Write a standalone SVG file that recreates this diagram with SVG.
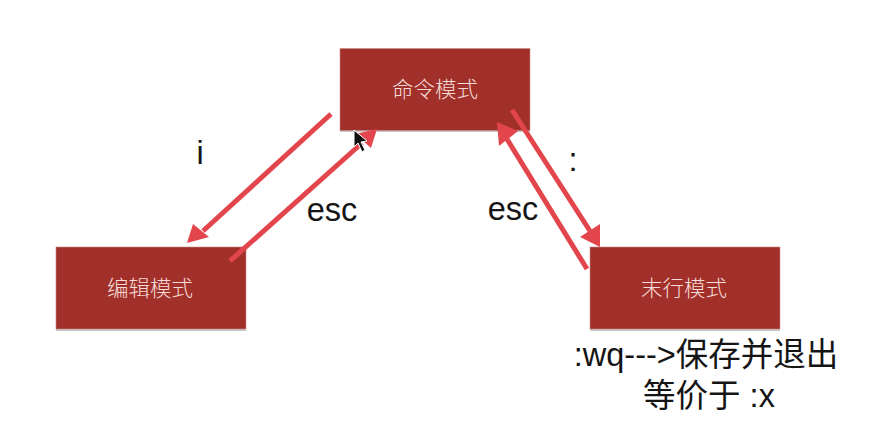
<svg xmlns="http://www.w3.org/2000/svg" width="869" height="446" viewBox="0 0 869 446">
<style>
.box{fill:#a2302a;stroke:#c98a85;stroke-width:.6}
.shadow{fill:#9a9a9a;opacity:.55}
.nl{font-family:"Noto Sans CJK SC","Liberation Sans",sans-serif;font-size:21.500px;fill:#f5dcd8;text-anchor:middle;font-weight:300}
.tl{font-family:"Liberation Sans","Noto Sans CJK SC",sans-serif;font-size:32.500px;fill:#151515;text-anchor:middle}
.c{fill:none;stroke:#e2464c;stroke-width:5}
.h{fill:#e2464c}
</style>
<rect width="869" height="446" fill="#fff"/>
<g id="node-command"><rect class="shadow" x="340" y="50" width="190" height="82"/><rect class="box" x="340" y="48.500" width="190" height="82"/><text class="nl" x="435" y="97">命令模式</text></g>
<g id="node-edit"><rect class="shadow" x="56" y="249" width="190" height="82"/><rect class="box" x="56" y="247" width="190" height="82"/><text class="nl" x="150" y="296">编辑模式</text></g>
<g id="node-last"><rect class="shadow" x="590" y="249" width="190" height="82"/><rect class="box" x="590" y="247" width="190" height="82"/><text class="nl" x="684" y="296">末行模式</text></g>
<g id="connectors">
<path class="c" d="M331 114L203 231"/><path class="h" d="M187 243L193 224L209 237Z"/>
<path class="c" d="M230 261L362 143"/><path class="h" d="M377 129L371 148L355 134Z"/>
<path class="c" d="M512 110L590 231"/><path class="h" d="M600 247L580 237L600 224Z"/>
<path class="c" d="M587 269L507 139"/><path class="h" d="M497 122L518 131L499 146Z"/>
</g>
<path d="M354 130L354 147L358 143L362 152L365 150L361 142L367 141Z" fill="#111" stroke="#fff" stroke-width="1"/>
<text class="tl" x="200" y="164">i</text>
<text class="tl" x="332" y="221">esc</text>
<text class="tl" x="513" y="220">esc</text>
<text class="tl" x="573" y="171">:</text>
<text class="tl" x="706" y="366">:wq---&gt;保存并退出</text>
<text class="tl" x="709" y="407">等价于 :x</text>
</svg>
